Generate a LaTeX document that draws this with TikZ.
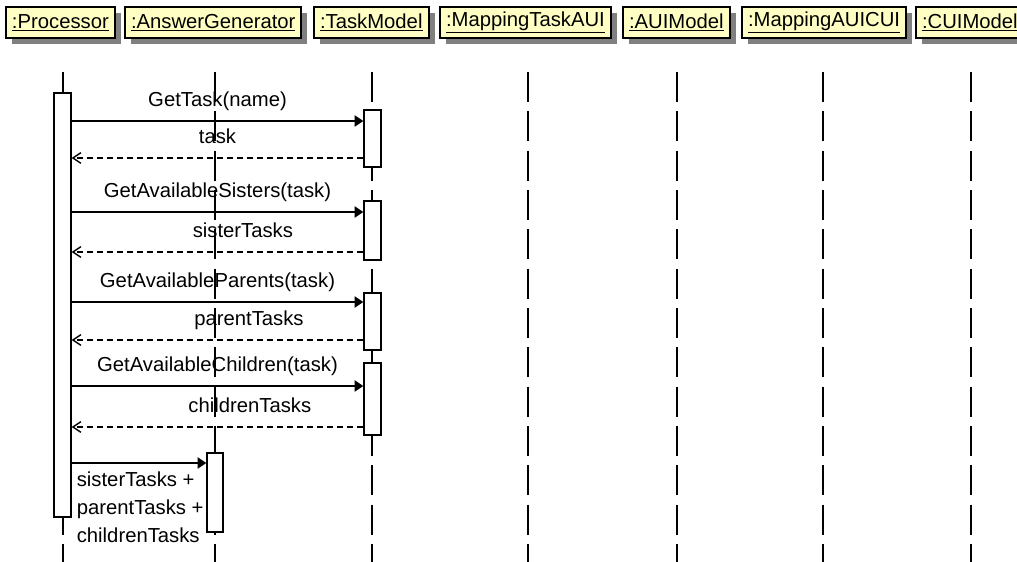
\documentclass[tikz,border=0pt]{standalone}
\usepackage{fontspec}
\setmainfont{Liberation Sans}
\usetikzlibrary{arrows.meta,shadows,fit}

\definecolor{objfill}{RGB}{255,255,196}
\definecolor{shadowgray}{RGB}{128,128,128}

\begin{document}
\begin{tikzpicture}[
  x=0.75pt, y=-0.75pt,
  font=\fontsize{15.2}{21}\selectfont,
  obj/.style={draw, line width=1.5pt, fill=objfill, anchor=north west,
    minimum height=23.25pt, inner xsep=4.5pt, inner ysep=0pt,
    drop shadow={shadow xshift=4.5pt, shadow yshift=-4.5pt, fill=shadowgray, opacity=1}},
  lifeline/.style={line width=1.1pt, dash pattern=on 22.5pt off 7pt},
  bar/.style={draw, line width=1.1pt, fill=white, inner sep=0pt},
  call/.style={line width=1pt, -{Triangle[length=6.5pt,width=8.5pt]}},
  reply/.style={line width=1pt, dash pattern=on 4.5pt off 3pt, -{Straight Barb[length=6pt,width=8pt]}},
  lbl/.style={text height=0.75em, text depth=0.2em, yshift=14pt}
]
  \useasboundingbox (0,0) rectangle (1017,561);

  % objects
  \node[obj] (proc)   at (5,6)   {\underline{:Processor}};
  \node[obj] (agen)   at (124,6) {\underline{:AnswerGenerator}};
  \node[obj] (tmodel) at (313,6) {\underline{:TaskModel}};
  \node[obj] (mtaui)  at (439,6) {\underline{:MappingTaskAUI}};
  \node[obj] (auim)   at (622,6) {\underline{:AUIModel}};
  \node[obj] (maucui) at (741,6) {\underline{:MappingAUICUI}};
  \node[obj] (cuim)   at (915,6) {\underline{:CUIModel}};

  % lifelines
  \foreach \x in {63,215,372,528,677,823,971}
    \draw[lifeline] (\x,72) -- (\x,570);

  % activations
  \node[bar, fit={(54,93) (71,517)}]   (pbar) {};
  \node[bar, fit={(364,110) (381,167)}] (tb1) {};
  \node[bar, fit={(364,201) (381,260)}] (tb2) {};
  \node[bar, fit={(364,293) (381,350)}] (tb3) {};
  \node[bar, fit={(364,363) (381,435)}] (tb4) {};
  \node[bar, fit={(207,453) (223,532)}] (abar) {};

  % messages
  \draw[call]  (pbar.east |- 0,121) -- node[lbl]{GetTask(name)} (tb1.west |- 0,121);
  \draw[reply] (tb1.west |- 0,158) -- node[lbl]{task} (pbar.east |- 0,158);
  \draw[call]  (pbar.east |- 0,212) -- node[lbl]{GetAvailableSisters(task)} (tb2.west |- 0,212);
  \draw[reply] (tb2.west |- 0,252) -- node[lbl,pos=0.413]{sisterTasks} (pbar.east |- 0,252);
  \draw[call]  (pbar.east |- 0,302) -- node[lbl]{GetAvailableParents(task)} (tb3.west |- 0,302);
  \draw[reply] (tb3.west |- 0,340) -- node[lbl,pos=0.392]{parentTasks} (pbar.east |- 0,340);
  \draw[call]  (pbar.east |- 0,386) -- node[lbl]{GetAvailableChildren(task)} (tb4.west |- 0,386);
  \draw[reply] (tb4.west |- 0,427) -- node[lbl,pos=0.389]{childrenTasks} (pbar.east |- 0,427);
  \draw[call]  (pbar.east |- 0,463) -- node[pos=0,anchor=north west,align=left,yshift=-3pt]
    {sisterTasks +\\parentTasks +\\childrenTasks} (abar.west |- 0,463);
\end{tikzpicture}
\end{document}
